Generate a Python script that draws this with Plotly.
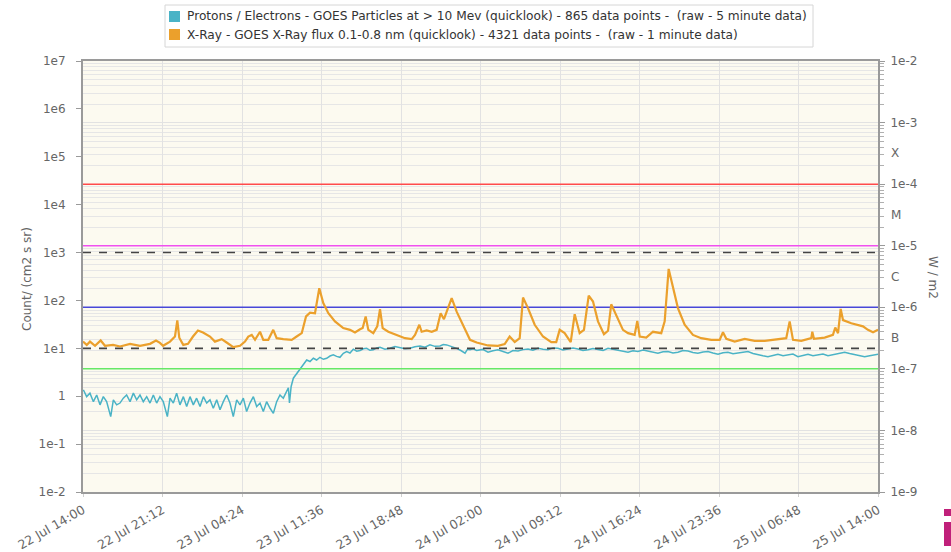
import math
import pandas as pd
import plotly.graph_objects as go

# ---- data -------------------------------------------------------------
START = pd.Timestamp("2025-07-22 14:00")
END = pd.Timestamp("2025-07-25 14:00")

# GOES X-ray flux 0.1-0.8 nm, (hours after start, W/m2)
xray_samples = [
    (0.00, 2.77e-7), (0.34, 2.45e-7), (0.63, 2.77e-7), (1.09, 2.37e-7), (1.60, 2.89e-7),
    (1.99, 2.37e-7), (2.72, 2.45e-7), (3.35, 2.31e-7), (4.26, 2.55e-7), (5.16, 2.37e-7),
    (6.07, 2.55e-7), (6.61, 2.89e-7), (6.97, 2.64e-7), (7.25, 2.37e-7), (7.88, 2.77e-7),
    (8.33, 3.35e-7), (8.54, 6.1e-7), (8.72, 3.2e-7), (9.08, 2.45e-7), (9.51, 2.55e-7),
    (9.96, 3.35e-7), (10.41, 4.2e-7), (10.87, 3.9e-7), (11.50, 3.35e-7), (11.95, 2.77e-7),
    (12.56, 3.04e-7), (13.01, 2.68e-7), (13.61, 2.26e-7), (14.22, 2.37e-7), (14.67, 2.77e-7),
    (14.97, 3.35e-7), (15.28, 3.56e-7), (15.58, 2.96e-7), (16.03, 4.0e-7), (16.33, 2.96e-7),
    (16.78, 2.96e-7), (17.23, 4.3e-7), (17.54, 3.15e-7), (18.14, 3.04e-7), (18.90, 2.96e-7),
    (19.35, 3.35e-7), (19.81, 3.8e-7), (20.20, 7.1e-7), (20.56, 8.2e-7), (21.01, 8.0e-7),
    (21.40, 2.04e-6), (21.76, 1.17e-6), (22.22, 8.0e-7), (22.82, 5.9e-7), (23.57, 4.6e-7),
    (24.18, 4.3e-7), (24.63, 3.9e-7), (25.09, 4.4e-7), (25.33, 4.6e-7), (25.60, 7.1e-7),
    (25.84, 4.3e-7), (26.29, 3.8e-7), (26.65, 4.9e-7), (26.90, 9.3e-7), (27.14, 4.6e-7),
    (27.65, 4.0e-7), (28.41, 3.56e-7), (29.16, 3.15e-7), (29.77, 3.04e-7), (30.07, 3.56e-7),
    (30.46, 5.2e-7), (30.67, 4.0e-7), (31.13, 4.2e-7), (31.58, 4.0e-7), (32.03, 4.3e-7),
    (32.39, 8.0e-7), (32.69, 6.4e-7), (33.39, 1.41e-6), (33.84, 8.5e-7), (34.44, 4.9e-7),
    (35.05, 2.96e-7), (35.65, 2.68e-7), (36.68, 2.40e-7), (37.58, 2.37e-7), (38.19, 2.53e-7),
    (38.64, 3.35e-7), (39.10, 2.72e-7), (39.55, 3.15e-7), (39.85, 1.44e-6), (40.30, 9.7e-7),
    (40.91, 5.2e-7), (41.66, 3.35e-7), (42.41, 2.72e-7), (42.86, 2.72e-7), (43.17, 4.3e-7),
    (43.62, 3.8e-7), (44.17, 2.72e-7), (44.53, 7.7e-7), (44.98, 3.8e-7), (45.37, 4.3e-7),
    (45.80, 1.55e-6), (46.19, 1.24e-6), (46.64, 5.9e-7), (47.18, 3.66e-7), (47.55, 4.15e-7),
    (47.84, 1.12e-6), (48.30, 7.5e-7), (48.90, 4.3e-7), (49.36, 3.8e-7), (49.96, 3.56e-7),
    (50.20, 6.0e-7), (50.42, 3.35e-7), (51.01, 3.22e-7), (51.62, 4.0e-7), (52.37, 3.8e-7),
    (52.68, 5.9e-7), (53.04, 4.2e-6), (53.43, 2.04e-6), (53.88, 9.7e-7), (54.49, 5.2e-7),
    (55.24, 3.56e-7), (55.99, 3.15e-7), (56.90, 2.96e-7), (57.66, 2.96e-7), (57.96, 3.94e-7),
    (58.26, 3.07e-7), (59.02, 2.77e-7), (59.93, 3.07e-7), (60.83, 2.85e-7), (61.74, 2.85e-7),
    (62.94, 3.07e-7), (63.69, 3.15e-7), (64.00, 5.9e-7), (64.30, 2.96e-7), (65.05, 2.85e-7),
    (65.96, 3.15e-7), (66.05, 4.0e-7), (66.20, 3.07e-7), (67.17, 3.22e-7), (67.92, 3.56e-7),
    (68.13, 4.7e-7), (68.38, 3.8e-7), (68.62, 9.4e-7), (68.83, 6.2e-7), (69.58, 5.5e-7),
    (70.19, 5.1e-7), (70.64, 4.9e-7), (71.09, 4.3e-7), (71.55, 3.94e-7), (72.00, 4.3e-7),
]

# GOES protons > 10 MeV, (hours after start, counts/(cm2 s sr))
proton_samples = [
    (0.03, 1.36), (0.33, 0.98), (0.63, 1.16), (0.94, 0.77), (1.24, 1.06), (1.54, 0.66),
    (1.84, 0.98), (2.14, 0.77), (2.51, 0.375), (2.75, 0.84), (3.05, 0.66), (3.35, 0.72),
    (3.65, 0.91), (3.95, 1.06), (4.26, 0.77), (4.56, 1.16), (4.86, 0.84), (5.16, 1.06),
    (5.46, 0.77), (5.77, 0.98), (6.07, 0.72), (6.37, 1.06), (6.67, 0.72), (6.97, 0.98),
    (7.27, 0.77), (7.64, 0.375), (7.88, 0.91), (8.18, 0.72), (8.48, 1.16), (8.78, 0.66),
    (9.09, 0.98), (9.39, 0.61), (9.69, 0.98), (9.99, 0.66), (10.29, 0.91), (10.60, 0.61),
    (10.90, 0.98), (11.20, 0.72), (11.50, 0.84), (11.80, 0.56), (12.11, 0.84), (12.41, 0.52),
    (12.71, 0.77), (13.01, 1.06), (13.31, 0.72), (13.61, 0.375), (13.92, 0.84), (14.22, 0.66),
    (14.52, 0.91), (14.82, 0.48), (15.12, 0.72), (15.43, 0.98), (15.73, 0.61), (16.03, 0.72),
    (16.33, 0.48), (16.63, 0.77), (16.94, 0.56), (17.24, 0.44), (17.54, 0.77), (17.84, 1.06),
    (18.14, 0.91), (18.44, 1.25), (18.60, 1.50), (18.70, 0.72), (18.85, 1.60), (19.05, 2.38),
    (19.35, 3.0), (19.65, 3.55), (19.95, 4.5), (20.26, 5.7), (20.56, 5.3), (20.86, 6.2),
    (21.16, 5.7), (21.46, 6.5), (21.77, 5.9), (22.07, 6.2), (22.37, 6.9), (22.67, 7.3),
    (22.97, 6.8), (23.27, 6.5), (23.58, 7.9), (23.88, 8.6), (24.18, 8.0), (24.48, 9.6),
    (24.79, 8.7), (25.09, 9.0), (25.39, 9.8), (25.69, 10.0), (25.99, 9.1), (26.29, 9.3),
    (26.60, 10.2), (26.90, 10.5), (27.35, 9.6), (27.80, 10.0), (28.25, 10.9), (28.71, 10.5),
    (29.16, 9.8), (29.61, 10.0), (30.06, 10.8), (30.52, 11.2), (30.97, 10.6), (31.42, 11.8),
    (31.87, 11.0), (32.33, 11.2), (32.63, 12.0), (32.94, 11.8), (33.39, 10.9), (33.84, 10.0),
    (34.22, 9.0), (34.60, 7.9), (34.83, 9.6), (35.05, 9.3), (35.35, 9.8), (35.65, 9.0),
    (36.20, 9.5), (36.68, 8.3), (37.13, 8.9), (37.58, 9.3), (38.04, 8.6), (38.49, 7.9),
    (38.94, 9.0), (39.40, 8.8), (39.85, 9.4), (40.30, 9.7), (40.75, 9.1), (41.21, 10.0),
    (41.66, 9.6), (42.11, 9.3), (42.57, 10.2), (43.02, 10.0), (43.47, 9.2), (43.92, 9.5),
    (44.38, 10.1), (44.83, 9.7), (45.28, 9.0), (45.73, 9.3), (46.19, 9.9), (46.64, 9.5),
    (47.10, 9.0), (47.55, 10.0), (48.00, 9.6), (48.45, 9.3), (48.90, 8.7), (49.36, 8.3),
    (49.81, 8.9), (50.26, 8.6), (50.72, 9.2), (51.17, 8.8), (51.62, 8.2), (52.07, 7.9),
    (52.53, 8.5), (52.98, 8.6), (53.43, 8.0), (53.88, 8.3), (54.34, 9.0), (54.79, 8.8),
    (55.24, 8.2), (55.69, 7.9), (56.15, 8.4), (56.60, 8.6), (57.05, 8.0), (57.51, 7.5),
    (57.96, 8.1), (58.41, 8.3), (58.87, 7.7), (59.32, 7.9), (59.77, 8.4), (60.22, 8.6),
    (60.68, 7.8), (61.13, 7.3), (61.58, 7.0), (62.03, 6.7), (62.49, 7.2), (62.94, 7.5),
    (63.40, 7.0), (63.85, 7.3), (64.30, 7.6), (64.75, 6.7), (65.21, 7.1), (65.66, 7.5),
    (66.11, 7.0), (66.56, 7.3), (67.02, 7.6), (67.47, 7.0), (67.92, 7.4), (68.38, 7.9),
    (68.68, 8.1), (68.98, 8.3), (69.43, 7.8), (69.89, 7.5), (70.34, 7.1), (70.79, 6.7),
    (71.25, 7.0), (71.70, 7.3), (72.00, 7.5),
]

# flare class thresholds (W/m2) and their colours
xray_levels = [1e-4, 1e-5, 1e-6, 1e-7]
xray_level_colors = ["#ff4a4a", "#f050f0", "#4848d8", "#66e866"]
xray_class_labels = ["X", "M", "C", "B"]
xray_class_pos = [10 ** -3.5, 10 ** -4.5, 10 ** -5.5, 10 ** -6.5]

# proton alert levels (counts)
proton_levels = [1e3, 1e1]

left_ticks = [1e-2, 1e-1, 1, 1e1, 1e2, 1e3, 1e4, 1e5, 1e6, 1e7]
left_tick_text = ["1e-2", "1e-1", "1", "1e1", "1e2", "1e3", "1e4", "1e5", "1e6", "1e7"]
right_ticks = [1e-9, 1e-8, 1e-7, 1e-6, 1e-5, 1e-4, 1e-3, 1e-2]
right_tick_text = ["1e-9", "1e-8", "1e-7", "1e-6", "1e-5", "1e-4", "1e-3", "1e-2"]

legend_labels = [
    "Protons / Electrons - GOES Particles at > 10 Mev (quicklook) - 865 data points -  (raw - 5 minute data)",
    "X-Ray - GOES X-Ray flux 0.1-0.8 nm (quicklook) - 4321 data points -  (raw - 1 minute data)",
]

# ---- layout helpers ---------------------------------------------------
W, H = 951, 552
ML, MR, MT, MB = 83, 73, 61, 60
PW, PH = W - ML - MR, H - MT - MB
FONT = "DejaVu Sans"
GREY = "#666666"
PROTON_COLOR = "#4ab3c6"
XRAY_COLOR = "#eba02c"


def fx(px):
    return (px - ML) / PW


def fy(py):
    return (H - MB - py) / PH


def to_time(hours):
    return [START + pd.Timedelta(hours=h) for h in hours]


xray_t = to_time([h for h, _ in xray_samples])
xray_v = [v for _, v in xray_samples]
prot_t = to_time([h for h, _ in proton_samples])
prot_v = [v for _, v in proton_samples]

fig = go.Figure()

# flare class threshold lines (under the data)
for lvl, col in zip(xray_levels, xray_level_colors):
    fig.add_trace(go.Scatter(x=[START, END], y=[lvl, lvl], yaxis="y2", mode="lines",
                             line=dict(color=col, width=1.5), hoverinfo="skip",
                             showlegend=False))

fig.add_trace(go.Scatter(x=prot_t, y=prot_v, mode="lines", name=legend_labels[0],
                         line=dict(color=PROTON_COLOR, width=1.5), showlegend=False))

for lvl in proton_levels:
    fig.add_trace(go.Scatter(x=[START, END], y=[lvl, lvl], mode="lines",
                             line=dict(color="#444444", width=1.6, dash="8px,8px"),
                             hoverinfo="skip", showlegend=False))

fig.add_trace(go.Scatter(x=xray_t, y=xray_v, yaxis="y2", mode="lines", name=legend_labels[1],
                         line=dict(color=XRAY_COLOR, width=2.2), showlegend=False))

# minor decades on the flux axis
minor_vals = [k * 10.0 ** e for e in range(-9, -2) for k in range(2, 10)]

fig.update_layout(
    width=W, height=H,
    margin=dict(l=ML, r=MR, t=MT, b=MB, pad=0),
    paper_bgcolor="white",
    plot_bgcolor="#fcfaf0",
    font=dict(family=FONT, size=12, color=GREY),
    showlegend=False,
    xaxis=dict(
        type="date", range=[START, END], tick0=START, dtick=7.2 * 3600 * 1000,
        tickformat="%d %b %H:%M", tickangle=-30, tickfont=dict(size=12.5, color=GREY),
        showgrid=True, gridcolor="#e2e2e2", gridwidth=1,
        showline=True, linecolor="#9a9a9a", linewidth=2, mirror=True,
        ticks="outside", ticklen=3, tickcolor="#cfcfcf", zeroline=False,
        ticklabelstandoff=1, automargin=False,
    ),
    yaxis=dict(
        type="log", range=[-2, 7], tickmode="array", tickvals=left_ticks,
        ticktext=left_tick_text, showgrid=False, zeroline=False,
        showline=True, linecolor="#9a9a9a", linewidth=2,
        ticks="outside", ticklen=5, tickcolor="#9a9a9a", ticklabelstandoff=8,
        tickfont=dict(size=12, color=GREY), automargin=False,
    ),
    yaxis2=dict(
        type="log", range=[-9, -2], overlaying="y", side="right",
        tickmode="array", tickvals=right_ticks, ticktext=right_tick_text,
        showgrid=True, gridcolor="#e2e2e2", gridwidth=1, zeroline=False,
        showline=True, linecolor="#9a9a9a", linewidth=2,
        ticks="outside", ticklen=5, tickcolor="#9a9a9a", ticklabelstandoff=3,
        tickfont=dict(size=12, color=GREY), automargin=False,
        minor=dict(tickvals=minor_vals, ticks="outside", ticklen=4, tickcolor="#b0b0b0",
                   showgrid=True, gridcolor="#e6e6e6", gridwidth=1),
    ),
)

annotations = []
# flare class letters on the flux axis (annotation y is in log units)
for lab, pos in zip(xray_class_labels, xray_class_pos):
    annotations.append(dict(text=lab, xref="paper", yref="y2", x=fx(889), y=math.log10(pos),
                            xanchor="left", yanchor="middle", showarrow=False,
                            font=dict(size=12, color=GREY)))
# right axis title, reading downward
annotations.append(dict(text="W / m2", xref="paper", yref="paper", x=fx(933), y=fy(277),
                        textangle=90, showarrow=False, xanchor="center", yanchor="middle",
                        font=dict(size=12, color=GREY)))
# left axis title
annotations.append(dict(text="Count/ (cm2 s sr)", xref="paper", yref="paper", x=fx(27),
                        y=fy(279), textangle=-90, showarrow=False, xanchor="center",
                        yanchor="middle", font=dict(size=12, color=GREY)))
# legend text
for lab, ypix in zip(legend_labels, [16.5, 34.5]):
    annotations.append(dict(text=lab, xref="paper", yref="paper", x=fx(185), y=fy(ypix),
                            xanchor="left", yanchor="middle", showarrow=False,
                            font=dict(size=12.2, color="#333333")))
fig.update_layout(annotations=annotations)

shapes = [
    # legend frame and swatches
    dict(type="rect", xref="paper", yref="paper", x0=fx(165), x1=fx(813), y0=fy(47), y1=fy(5),
         line=dict(color="#d6d6d6", width=1), fillcolor="white", layer="above"),
    dict(type="rect", xref="paper", yref="paper", x0=fx(169), x1=fx(180), y0=fy(22), y1=fy(11),
         line=dict(width=0), fillcolor=PROTON_COLOR, layer="above"),
    dict(type="rect", xref="paper", yref="paper", x0=fx(169), x1=fx(180), y0=fy(40), y1=fy(29),
         line=dict(width=0), fillcolor=XRAY_COLOR, layer="above"),
    # corner logo fragment
    dict(type="rect", xref="paper", yref="paper", x0=fx(944), x1=fx(951), y0=fy(516), y1=fy(509),
         line=dict(width=0), fillcolor="#c0207a", layer="above"),
    dict(type="rect", xref="paper", yref="paper", x0=fx(944), x1=fx(951), y0=fy(546), y1=fy(522),
         line=dict(width=0), fillcolor="#c0207a", layer="above"),
]
fig.update_layout(shapes=shapes)

fig.write_html("out.html")
